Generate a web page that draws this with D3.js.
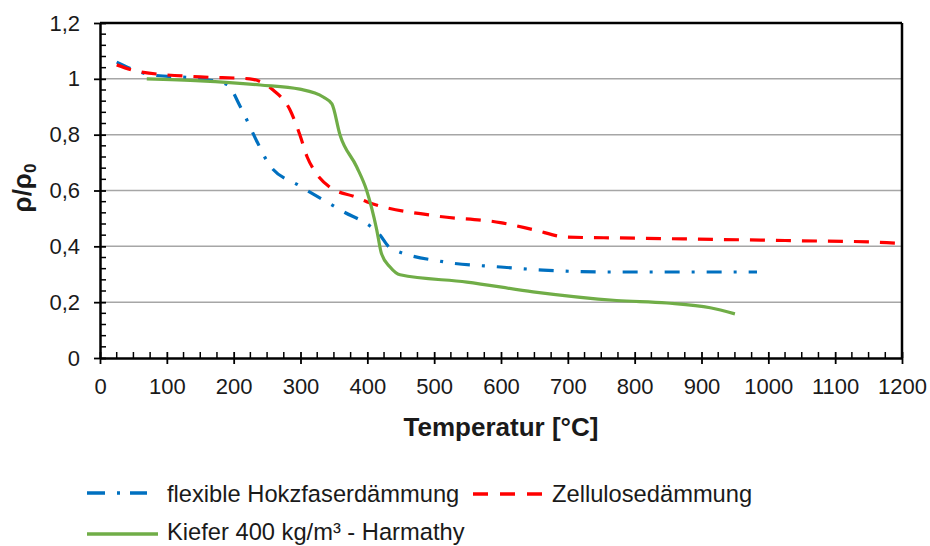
<!DOCTYPE html>
<html>
<head>
<meta charset="utf-8">
<script src="https://cdn.jsdelivr.net/npm/d3@7/dist/d3.min.js"></script>
<style>
  html, body { margin: 0; padding: 0; background: #fff; }
  svg { display: block; font-family: "Liberation Sans", Arial, sans-serif; }
</style>
</head>
<body>
<svg id="chart" width="930" height="546"></svg>
<script>
// Temperature [°C] and relative density ρ/ρ0 for each material
const flexTemp = [25, 75, 150, 190, 210, 236, 254, 300, 360, 419, 434, 513, 599, 663, 759, 983];
const flexRho  = [1.06, 1.015, 1.0, 0.98, 0.90, 0.77, 0.69, 0.615, 0.53, 0.44, 0.395, 0.345, 0.326, 0.315, 0.308, 0.308];

const zellTemp = [25, 60, 150, 224, 259, 284, 299, 310, 322, 344, 382, 399, 499, 599, 648, 698, 778, 1047, 1162, 1200];
const zellRho  = [1.05, 1.025, 1.007, 1.0, 0.96, 0.89, 0.80, 0.72, 0.667, 0.612, 0.577, 0.56, 0.51, 0.485, 0.46, 0.433, 0.43, 0.42, 0.415, 0.41];

const kiefTemp = [70, 150, 240, 299, 334, 347, 359, 384, 399, 414, 421, 434, 449, 549, 648, 773, 848, 913, 950];
const kiefRho  = [1.0, 0.993, 0.978, 0.963, 0.935, 0.91, 0.80, 0.685, 0.60, 0.46, 0.375, 0.326, 0.298, 0.272, 0.237, 0.206, 0.197, 0.18, 0.158];

const xTicks = [0, 100, 200, 300, 400, 500, 600, 700, 800, 900, 1000, 1100, 1200];
const yTicks = [0, 0.2, 0.4, 0.6, 0.8, 1.0, 1.2];

const seriesNames = ["flexible Hokzfaserdämmung", "Zellulosedämmung", "Kiefer 400 kg/m³ - Harmathy"];
const seriesColors = ["#0070C0", "#FF0000", "#70AD47"];
const seriesDash = ["15,12,3,12", "15,11", null];

const svg = d3.select("#chart");
const m = { left: 100, right: 28, top: 23, bottom: 188 };
const W = 930, H = 546;

const x = d3.scaleLinear().domain([0, 1200]).range([m.left, W - m.right]);
const y = d3.scaleLinear().domain([0, 1.2]).range([H - m.bottom, m.top]);

const fmt = v => String(+v.toFixed(1)).replace(".", ",");

// horizontal gridlines
svg.append("g")
  .selectAll("line")
  .data(yTicks.filter(v => v > 0 && v < 1.2))
  .join("line")
  .attr("x1", x(0)).attr("x2", x(1200))
  .attr("y1", d => y(d)).attr("y2", d => y(d))
  .attr("stroke", "#A6A6A6").attr("stroke-width", 1.5);

// plot frame (top and right)
svg.append("line").attr("x1", x(0)).attr("x2", x(1200)).attr("y1", y(1.2)).attr("y2", y(1.2))
  .attr("stroke", "#000").attr("stroke-width", 2.5);
svg.append("line").attr("x1", x(1200)).attr("x2", x(1200)).attr("y1", y(1.2)).attr("y2", y(0))
  .attr("stroke", "#000").attr("stroke-width", 2.5);

// minor ticks (inside the plot)
const xMinor = d3.range(0, 1201, 25).filter(v => v % 100 !== 0);
svg.append("g").selectAll("line").data(xMinor).join("line")
  .attr("x1", d => x(d)).attr("x2", d => x(d))
  .attr("y1", y(0)).attr("y2", y(0) - 6)
  .attr("stroke", "#000").attr("stroke-width", 1.5);
const yMinor = d3.range(0, 1.2001, 0.04).filter(v => Math.abs(v / 0.2 - Math.round(v / 0.2)) > 1e-6);
svg.append("g").selectAll("line").data(yMinor).join("line")
  .attr("x1", x(0)).attr("x2", x(0) + 6)
  .attr("y1", d => y(d)).attr("y2", d => y(d))
  .attr("stroke", "#000").attr("stroke-width", 1.5);

// axes
const xAxis = svg.append("g").attr("transform", `translate(0,${y(0)})`)
  .call(d3.axisBottom(x).tickValues(xTicks).tickSizeInner(6).tickSizeOuter(0).tickPadding(14).tickFormat(d3.format("d")));
const yAxis = svg.append("g").attr("transform", `translate(${x(0)},0)`)
  .call(d3.axisLeft(y).tickValues(yTicks).tickSizeInner(6).tickSizeOuter(0).tickPadding(14).tickFormat(fmt));

[xAxis, yAxis].forEach(a => {
  a.select(".domain").attr("stroke", "#000").attr("stroke-width", 2.5);
  a.selectAll(".tick line").attr("stroke", "#000").attr("stroke-width", 1.8);
  a.selectAll(".tick text").attr("fill", "#1a1a1a").style("font-size", "22px")
    .style("font-family", "'Liberation Sans', Arial, sans-serif");
});
// major ticks cross the axis
xAxis.selectAll(".tick line").attr("y1", -6).attr("y2", 6);
yAxis.selectAll(".tick line").attr("x1", 6).attr("x2", -6);

// axis titles
svg.append("text").attr("x", (x(0) + x(1200)) / 2).attr("y", 436)
  .attr("text-anchor", "middle").attr("font-weight", "bold").attr("font-size", 26).attr("fill", "#1a1a1a")
  .text("Temperatur [°C]");
const yt = svg.append("text").attr("transform", "translate(31,188) rotate(-90)")
  .attr("text-anchor", "middle").attr("font-weight", "bold").attr("font-size", 26).attr("fill", "#1a1a1a");
yt.append("tspan").text("ρ/ρ");
yt.append("tspan").attr("font-size", 17).attr("dy", 5).text("0");

// series lines
const temps = [flexTemp, zellTemp, kiefTemp];
const rhos = [flexRho, zellRho, kiefRho];
const line = d3.line().x(d => x(d[0])).y(d => y(d[1])).curve(d3.curveMonotoneX);
temps.forEach((t, i) => {
  const pts = t.map((v, j) => [v, rhos[i][j]]);
  svg.append("path").datum(pts)
    .attr("d", line)
    .attr("fill", "none")
    .attr("stroke", seriesColors[i])
    .attr("stroke-width", 3.2)
    .attr("stroke-dasharray", seriesDash[i])
    .attr("stroke-linejoin", "round");
});

// legend
const legendItems = [
  { i: 0, lx: 87, ly: 493, len: 60, tx: 167, ty: 502 },
  { i: 1, lx: 473, ly: 494, len: 69, tx: 552, ty: 502 },
  { i: 2, lx: 87, ly: 534, len: 71, tx: 167, ty: 540 }
];
const legendDash = ["18,12,3,10", "15,12", null];
const lg = svg.append("g");
legendItems.forEach(it => {
  lg.append("line").attr("x1", it.lx).attr("x2", it.lx + it.len).attr("y1", it.ly).attr("y2", it.ly)
    .attr("stroke", seriesColors[it.i]).attr("stroke-width", 3.5)
    .attr("stroke-dasharray", legendDash[it.i]);
  lg.append("text").attr("x", it.tx).attr("y", it.ty)
    .attr("font-size", 23.7).attr("fill", "#1a1a1a").text(seriesNames[it.i]);
});
</script>
</body>
</html>
